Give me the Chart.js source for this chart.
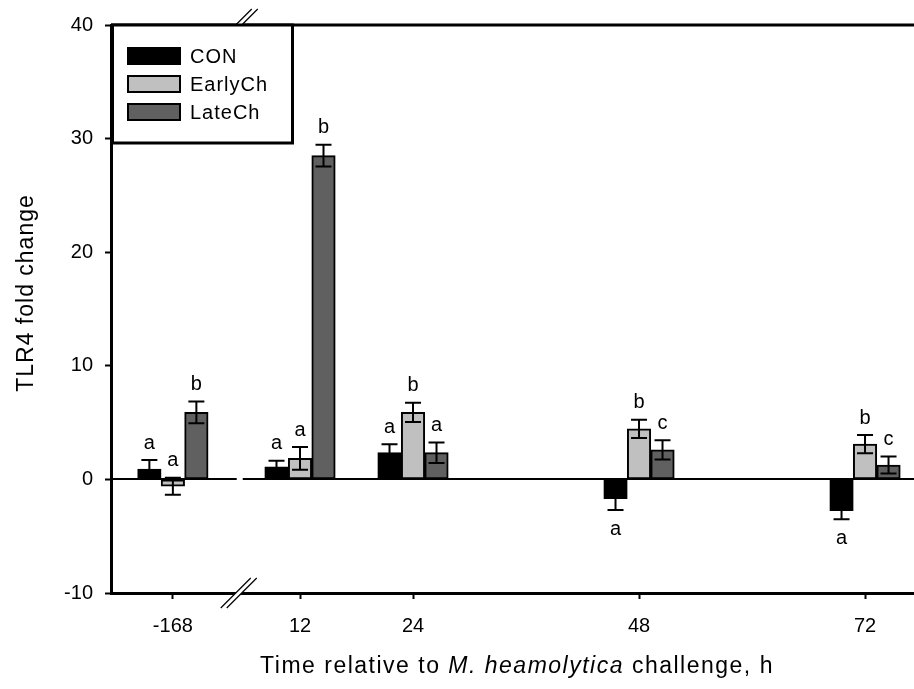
<!DOCTYPE html>
<html>
<head>
<meta charset="utf-8">
<script src="https://cdn.jsdelivr.net/npm/chart.js@4"></script>
<style>
  body { margin: 0; background: #fff; }
</style>
</head>
<body>
<canvas id="chart" width="914" height="689"></canvas>
<script>
// data
var times = [-168, 12, 24, 48, 72];
var timeLabels = ['-168', '12', '24', '48', '72'];
var seriesNames = ['CON', 'EarlyCh', 'LateCh'];

var conValues = [0.9, 1.1, 2.35, -1.7, -2.75];
var conErrors = [0.8, 0.55, 0.75, 1.0, 0.75];
var conLetters = ['a', 'a', 'a', 'a', 'a'];

var earlyValues = [-0.6, 1.85, 5.9, 4.45, 3.1];
var earlyErrors = [0.75, 1.0, 0.85, 0.8, 0.8];
var earlyLetters = ['a', 'a', 'b', 'b', 'b'];

var lateValues = [5.9, 28.5, 2.35, 2.6, 1.27];
var lateErrors = [0.95, 0.95, 0.9, 0.85, 0.75];
var lateLetters = ['b', 'b', 'a', 'c', 'c'];

var yTicks = [-10, 0, 10, 20, 30, 40];

// broken x axis: -168 is drawn just left of the break
var BREAK_AT = 5.6;
function axisPos(t) {
  return t < 0 ? -1.5 : t;
}

var FONT = '"Liberation Sans", Arial, sans-serif';

function makePoints(values) {
  var pts = [];
  for (var i = 0; i < times.length; i++) {
    pts.push({ x: axisPos(times[i]), y: values[i] });
  }
  return pts;
}

var errorsBySet = [conErrors, earlyErrors, lateErrors];
var lettersBySet = [conLetters, earlyLetters, lateLetters];

var extras = {
  id: 'extras',
  afterDatasetsDraw: function(chart) {
    var ctx = chart.ctx;
    var area = chart.chartArea;
    var ys = chart.scales.y;
    var xs = chart.scales.x;
    var breakPx = xs.getPixelForValue(BREAK_AT);

    // zero line with a gap at the break
    var y0 = Math.round(ys.getPixelForValue(0));
    ctx.save();
    ctx.strokeStyle = '#000';
    ctx.lineWidth = 2;
    ctx.beginPath();
    ctx.moveTo(area.left, y0);
    ctx.lineTo(breakPx - 3, y0);
    ctx.moveTo(breakPx + 3, y0);
    ctx.lineTo(area.right, y0);
    ctx.stroke();

    // error bars and letters
    ctx.font = '20px ' + FONT;
    ctx.textAlign = 'center';
    ctx.textBaseline = 'middle';
    ctx.fillStyle = '#000';
    chart.data.datasets.forEach(function(ds, di) {
      var meta = chart.getDatasetMeta(di);
      meta.data.forEach(function(bar, i) {
        var v = ds.data[i].y;
        var e = errorsBySet[di][i];
        var x = bar.x;
        var yTop = ys.getPixelForValue(v + e);
        var yBot = ys.getPixelForValue(v - e);
        ctx.lineWidth = 2;
        ctx.beginPath();
        ctx.moveTo(x, yTop);
        ctx.lineTo(x, yBot);
        ctx.moveTo(x - 8, yTop);
        ctx.lineTo(x + 8, yTop);
        ctx.moveTo(x - 8, yBot);
        ctx.lineTo(x + 8, yBot);
        ctx.stroke();

        var letter = lettersBySet[di][i];
        if (v + e > 0) {
          ctx.fillText(letter, x, Math.min(yTop, ys.getPixelForValue(0)) - 17);
        } else {
          ctx.fillText(letter, x, yBot + 19);
        }
      });
    });
    ctx.restore();
  },
  afterDraw: function(chart) {
    var ctx = chart.ctx;
    var area = chart.chartArea;
    var xs = chart.scales.x;
    var breakPx = xs.getPixelForValue(BREAK_AT);
    ctx.save();

    // top frame line
    ctx.strokeStyle = '#000';
    ctx.lineWidth = 3;
    ctx.beginPath();
    ctx.moveTo(area.left, area.top);
    ctx.lineTo(area.right, area.top);
    ctx.stroke();

    // break marks
    function breakMark(cx, cy, h) {
      ctx.fillStyle = '#fff';
      ctx.beginPath();
      ctx.moveTo(cx - 3 - h, cy + h);
      ctx.lineTo(cx - 3 + h, cy - h);
      ctx.lineTo(cx + 3 + h, cy - h);
      ctx.lineTo(cx + 3 - h, cy + h);
      ctx.closePath();
      ctx.fill();
      ctx.strokeStyle = '#000';
      ctx.lineWidth = 1.2;
      ctx.beginPath();
      ctx.moveTo(cx - 3 - h, cy + h);
      ctx.lineTo(cx - 3 + h, cy - h);
      ctx.moveTo(cx + 3 - h, cy + h);
      ctx.lineTo(cx + 3 + h, cy - h);
      ctx.stroke();
    }
    breakMark(breakPx - 1, area.bottom, 15);
    breakMark(breakPx + 7, area.top - 8, 8);

    // legend box
    ctx.fillStyle = '#fff';
    ctx.fillRect(area.left, area.top, 181, 118);
    ctx.strokeStyle = '#000';
    ctx.lineWidth = 3;
    ctx.strokeRect(area.left + 1.5, area.top, 180, 118);
    ctx.font = '20px ' + FONT;
    ctx.letterSpacing = '1px';
    ctx.textAlign = 'left';
    ctx.textBaseline = 'middle';
    chart.data.datasets.forEach(function(ds, di) {
      var cy = area.top + 31 + di * 28;
      ctx.fillStyle = ds.backgroundColor;
      ctx.fillRect(area.left + 17, cy - 8, 52, 16);
      ctx.lineWidth = 2;
      ctx.strokeRect(area.left + 17, cy - 8, 52, 16);
      ctx.fillStyle = '#000';
      ctx.fillText(ds.label, area.left + 79, cy + 1);
    });

    // axis titles
    ctx.font = '23px ' + FONT;
    ctx.letterSpacing = '1px';
    ctx.textAlign = 'center';
    ctx.save();
    ctx.translate(27, 293);
    ctx.rotate(-Math.PI / 2);
    ctx.fillText('TLR4 fold change', 0, 0);
    ctx.restore();

    var parts = [
      { t: 'Time relative to ', it: false },
      { t: 'M. heamolytica', it: true },
      { t: ' challenge, h', it: false }
    ];
    ctx.letterSpacing = '1.5px';
    var total = 0;
    parts.forEach(function(p) {
      ctx.font = (p.it ? 'italic ' : '') + '23px ' + FONT;
      p.w = ctx.measureText(p.t).width;
      total += p.w;
    });
    var xx = 517 - total / 2;
    ctx.textAlign = 'left';
    parts.forEach(function(p) {
      ctx.font = (p.it ? 'italic ' : '') + '23px ' + FONT;
      ctx.fillText(p.t, xx, 667);
      xx += p.w;
    });
    ctx.restore();
  }
};

new Chart(document.getElementById('chart'), {
  type: 'bar',
  data: {
    datasets: [
      { label: seriesNames[0], data: makePoints(conValues), backgroundColor: '#000000' },
      { label: seriesNames[1], data: makePoints(earlyValues), backgroundColor: '#c0c0c0' },
      { label: seriesNames[2], data: makePoints(lateValues), backgroundColor: '#606060' }
    ]
  },
  options: {
    responsive: false,
    animation: false,
    layout: { padding: { top: 25, right: 0, left: 0, bottom: 0 } },
    datasets: {
      bar: { barThickness: 23.5, borderColor: '#000', borderWidth: 2, borderSkipped: false }
    },
    plugins: { legend: { display: false }, tooltip: { enabled: false } },
    scales: {
      x: {
        type: 'linear',
        min: -8.07,
        max: 77.2,
        offset: false,
        afterBuildTicks: function(s) {
          s.ticks = times.map(function(t) { return { value: axisPos(t) }; });
        },
        afterFit: function(s) { s.height = 96; },
        ticks: {
          autoSkip: false,
          maxRotation: 0,
          padding: 15,
          color: '#000',
          font: { family: FONT, size: 20 },
          callback: function(v, i) { return timeLabels[i]; }
        },
        grid: { offset: false, drawOnChartArea: false, drawTicks: true, tickLength: 6, tickWidth: 2, color: '#000' },
        border: { display: true, color: '#000', width: 3 }
      },
      y: {
        min: -10,
        max: 40,
        afterBuildTicks: function(s) {
          s.ticks = yTicks.map(function(v) { return { value: v }; });
        },
        afterFit: function(s) { s.width = 111; },
        ticks: {
          padding: 12,
          color: '#000',
          font: { family: FONT, size: 20 }
        },
        grid: { drawOnChartArea: false, drawTicks: true, tickLength: 6, tickWidth: 2, color: '#000' },
        border: { display: true, color: '#000', width: 3 }
      }
    }
  },
  plugins: [extras]
});
</script>
</body>
</html>
